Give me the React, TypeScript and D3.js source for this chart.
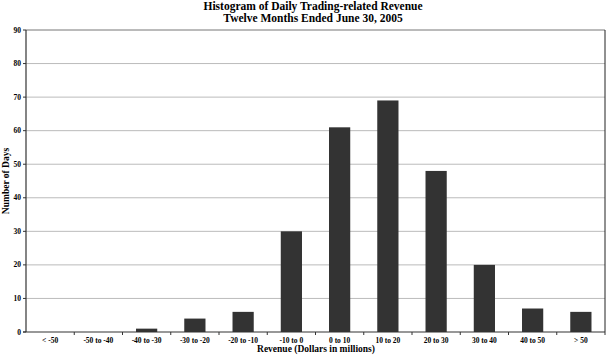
import React from "react";
import * as d3 from "d3";

const categories = ["< -50", "-50 to -40", "-40 to -30", "-30 to -20", "-20 to -10", "-10 to 0", "0 to 10", "10 to 20", "20 to 30", "30 to 40", "40 to 50", "> 50"];
const days = [0, 0, 1, 4, 6, 30, 61, 69, 48, 20, 7, 6];
const yTicks = [0, 10, 20, 30, 40, 50, 60, 70, 80, 90];

const W = 607, H = 356;
const L = 26, R = 605, T = 30, B = 332;
const font = "Liberation Serif";

export default function App() {
  const x = d3.scaleBand<string>().domain(categories).range([L, R]).paddingInner(0.56).paddingOuter(0.28);
  const xb = d3.scaleBand<string>().domain(categories).range([L, R]);
  const y = d3.scaleLinear().domain([0, 90]).range([B, T]);
  return (
    <svg width={W} height={H} style={{ position: "absolute", left: 0, top: 0, background: "#fff", fontFamily: font, fontWeight: 700 }}>
      <text x={313} y={9.5} textAnchor="middle" fontSize={11.5}>Histogram of Daily Trading-related Revenue</text>
      <text x={313} y={21.5} textAnchor="middle" fontSize={11.5}>Twelve Months Ended June 30, 2005</text>
      {yTicks.filter(t => t > 0).map(t => (
        <line key={"g" + t} x1={L} x2={R} y1={y(t)} y2={y(t)} stroke={t === 90 ? "#777" : "#bbb"} strokeWidth={1} />
      ))}
      <line x1={R} x2={R} y1={T} y2={B} stroke="#222" strokeWidth={1} />
      {categories.map((c, i) => (
        <rect key={c} x={x(c)} width={x.bandwidth()} y={y(days[i])} height={B - y(days[i])} fill="#333" />
      ))}
      <line x1={L} x2={L} y1={T} y2={B} stroke="#333" strokeWidth={1.2} />
      <line x1={L - 3} x2={R} y1={B} y2={B} stroke="#333" strokeWidth={1.2} />
      {yTicks.map(t => (
        <g key={"y" + t}>
          <line x1={L - 3} x2={L} y1={y(t)} y2={y(t)} stroke="#333" />
          <text x={L - 5} y={y(t) + 2.5} textAnchor="end" fontSize={7.5}>{t}</text>
        </g>
      ))}
      {categories.map((c, i) => (
        <g key={"x" + c}>
          <line x1={xb(c)! + xb.bandwidth()} x2={xb(c)! + xb.bandwidth()} y1={B} y2={B + 3} stroke="#333" />
          <text x={xb(c)! + xb.bandwidth() / 2} y={B + 11} textAnchor="middle" fontSize={7.5}>{c}</text>
        </g>
      ))}
      <text x={316} y={352} textAnchor="middle" fontSize={9.5}>Revenue (Dollars in millions)</text>
      <text transform={`translate(9,${(T + B) / 2}) rotate(-90)`} textAnchor="middle" fontSize={9.5}>Number of Days</text>
    </svg>
  );
}
